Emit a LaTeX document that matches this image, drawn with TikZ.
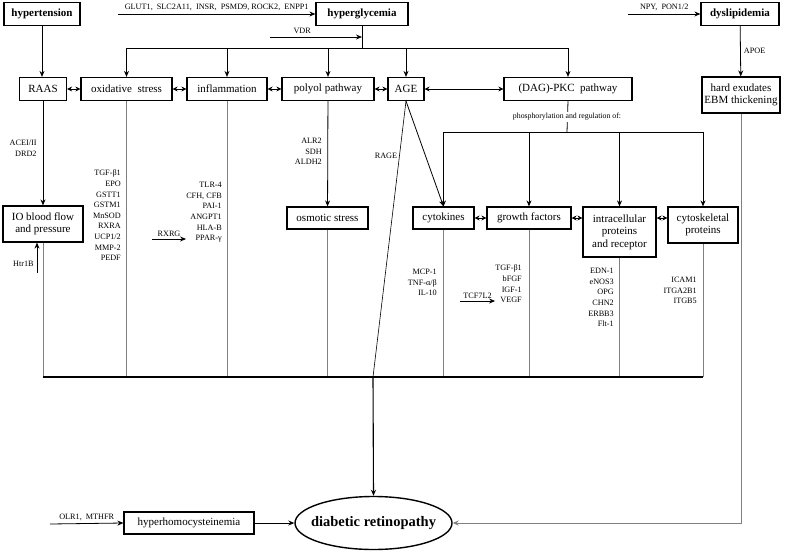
\documentclass[tikz,border=0pt]{standalone}
\usepackage{fontspec}
\setmainfont{Liberation Serif}
\usetikzlibrary{positioning,arrows.meta,shapes.geometric}

\tikzset{
  factor/.style={draw, line width=1.2pt, inner sep=1pt, align=center, font=\fontsize{11}{12.5}\selectfont},
  keyfactor/.style={factor, font=\bfseries\fontsize{11}{12.5}\selectfont},
  genes/.style={inner sep=0pt, align=right, font=\fontsize{8.2}{10.6}\selectfont},
  tag/.style={inner sep=0pt, font=\fontsize{8.2}{9}\selectfont},
  link/.style={draw=gray, line width=0.9pt},
  feed/.style={->, line width=0.8pt},
  mutual/.style={{Stealth[length=5pt,width=5pt]}-{Stealth[length=5pt,width=5pt]}, line width=0.8pt},
}

\begin{document}
\begin{tikzpicture}[x=1pt, y=-1pt, >={Stealth[length=6pt,width=5pt]}]
    \useasboundingbox (0,0) rectangle (787,552);

    % top level risk factors
    \node[keyfactor, minimum width=76pt, minimum height=23pt] (hyp)  at (42,14)  {hypertension};
    \node[keyfactor, minimum width=92pt, minimum height=23pt] (hgly) at (362,14) {hyperglycemia};
    \node[keyfactor, minimum width=78pt, minimum height=23pt] (dys)  at (740,14) {dyslipidemia};

    % first row of mechanisms
    \node[factor, minimum width=47pt,  minimum height=23pt] (raas) at (43,89)    {RAAS};
    \node[factor, minimum width=91pt,  minimum height=23pt] (oxs)  at (126.5,89) {oxidative\ \ stress};
    \node[factor, minimum width=80pt,  minimum height=23pt] (infl) at (227,89)   {inflammation};
    \node[factor, minimum width=92pt,  minimum height=23pt] (poly) at (328,89)   {polyol\ pathway};
    \node[factor, minimum width=36pt,  minimum height=23pt] (age)  at (406,89)   {AGE};
    \node[factor, minimum width=128pt, minimum height=23pt] (dag)  at (568,89)   {(DAG)-PKC\ \ pathway};
    \node[factor, minimum width=78pt,  minimum height=36pt] (hard) at (741,95)   {hard exudates\\EBM thickening};

    % second row
    \node[factor, minimum width=80pt, minimum height=36pt] (io)    at (43,224)    {IO blood flow\\and pressure};
    \node[factor, minimum width=81pt, minimum height=22pt] (osm)   at (327.5,218) {osmotic stress};
    \node[factor, minimum width=61pt, minimum height=22pt] (cyt)   at (443.5,218) {cytokines};
    \node[factor, minimum width=84pt, minimum height=22pt] (grow)  at (529,218)   {growth factors};
    \node[factor, minimum width=73pt, minimum height=50pt] (intra) at (619.5,232) {intracellular\\proteins\\and receptor};
    \node[factor, minimum width=70pt, minimum height=36pt] (skel)  at (703,225)   {cytoskeletal\\proteins};

    % outcome
    \node[factor, minimum width=130pt, minimum height=22pt] (homo) at (189,523) {hyperhomocysteinemia};
    \node[ellipse, draw, line width=1.4pt, inner sep=0pt, minimum width=157pt, minimum height=53pt,
          font=\bfseries\fontsize{14.5}{16}\selectfont] (dr) at (373.5,523) {\makebox[90pt]{diabetic retinopathy}};

    % gene lists
    \node[genes, anchor=north east] (oxsgenes)   at (121,170) {TGF-β1\\EPO\\GSTT1\\GSTM1\\MnSOD\\RXRA\\UCP1/2\\MMP-2\\PEDF};
    \node[genes, anchor=north east] (inflgenes)  at (222,182) {TLR-4\\CFH,\ CFB\\PAI-1\\ANGPT1\\HLA-B\\PPAR-γ};
    \node[genes, anchor=north east] (polygenes)  at (322,138) {ALR2\\SDH\\ALDH2};
    \node[genes, anchor=north east] (cytgenes)   at (437,269) {MCP-1\\TNF-α/β\\IL-10};
    \node[genes, anchor=north east] (growgenes)  at (522,265) {TGF-β1\\bFGF\\IGF-1\\VEGF};
    \node[genes, anchor=north east] (intragenes) at (614,268) {EDN-1\\eNOS3\\OPG\\CHN2\\ERBB3\\Flt-1};
    \node[genes, anchor=north east] (skelgenes)  at (697,277) {ICAM1\\ITGA2B1\\ITGB5};

    % free ends and junctions
    \coordinate (gluttail)  at (118,14);
    \coordinate (vdrtail)   at (270,37);
    \coordinate (npytail)   at (628,14);
    \coordinate (olrtail)   at (50,524);
    \coordinate (htrtail)   at (37,273);
    \coordinate (rxrgtail)  at (152,239);
    \coordinate (tcftail)   at (460,301);
    \coordinate (hglyfork)  at (362,48);
    \coordinate (dagfork)   at (567,132);
    \coordinate (busL)      at (43,377);
    \coordinate (busR)      at (703,377);
    \coordinate (busmid)    at (373,377);

    % inputs from the top
    \draw[feed] (gluttail) -- (hgly.west) node[tag, midway, above=3pt] {GLUT1,\ \ SLC2A11,\ \ INSR,\ \ PSMD9,\ ROCK2,\ \ ENPP1};
    \draw[feed] (vdrtail) -- (vdrtail -| hgly.south) node[tag, pos=0.35, above=3pt] {VDR};
    \draw[feed] (npytail) -- (dys.west) node[tag, midway, above=3pt] {NPY,\ \ PON1/2};

    % hyperglycemia fork
    \draw[line width=0.8pt] (hgly.south) -- (hglyfork);
    \draw[line width=0.8pt] (oxs.north |- hglyfork) -- (dag.north |- hglyfork);
    \foreach \n in {oxs,infl,poly,age,dag}
        \draw[feed] (\n.north |- hglyfork) -- (\n.north);

    % hypertension and dyslipidemia
    \draw[feed] (hyp.south) -- (hyp.south |- raas.north);
    \draw[feed] (dys) -- (hard) node[tag, midway, right=3pt] {APOE};

    % links between mechanisms
    \draw[mutual] (raas) -- (oxs);
    \draw[mutual] (oxs) -- (infl);
    \draw[mutual] (infl) -- (poly);
    \draw[mutual] (poly) -- (age);
    \draw[mutual] (age) -- (dag);
    \draw[mutual] (cyt) -- (grow);
    \draw[mutual] (grow.east) -- (intra.west |- grow.east);
    \draw[mutual] (intra.east |- grow.east) -- (skel.west |- grow.east);

    % second level
    \draw[feed] (raas) -- (io) node[genes, pos=0.45, left=6pt] {ACEI/II\\DRD2};
    \draw[feed] (htrtail) -- (htrtail |- io.south) node[tag, pos=0.3, left=3pt] {Htr1B};
    \draw[feed] (poly) -- (osm);
    \draw[feed] (rxrgtail) -- (rxrgtail -| inflgenes.west) node[tag, midway, above=2pt] {RXRG};
    \draw[feed] (tcftail) -- (tcftail -| growgenes.west) node[tag, midway, above=2pt] {TCF7L2};

    % DAG-PKC fork
    \draw[line width=0.8pt] (dag.south) -- (dagfork);
    \node[tag, fill=white, inner sep=1pt, font=\fontsize{7.8}{9}\selectfont] (phos) at (567,117) {phosphorylation and regulation of:};
    \draw[line width=0.8pt] (cyt.north |- dagfork) -- (skel.north |- dagfork);
    \foreach \n in {cyt,grow,intra,skel}
        \draw[feed] (\n.north |- dagfork) -- (\n.north);

    % AGE branches
    \draw[feed] (age.south) -- (cyt.north);
    \draw[line width=0.6pt] (age.south) -- (busmid) node[tag, pos=0.2, left=2pt] {RAGE};

    % collecting bus
    \foreach \n in {io,oxs,infl,osm,cyt,grow,intra,skel}
        \draw[link] (\n.south) -- (\n.south |- busL);
    \draw[line width=2pt] (busL) -- (busR);
    \draw[feed, line width=1.1pt] (busmid) -- (dr.north);

    % bottom inputs
    \draw[feed] (olrtail) -- (homo.west) node[tag, midway, above=2pt] {OLR1,\ \ MTHFR};
    \draw[feed] (homo) -- (dr);
    \draw[link, ->] (hard.south) -- (hard.south |- dr.east) -- (dr.east);
\end{tikzpicture}
\end{document}
